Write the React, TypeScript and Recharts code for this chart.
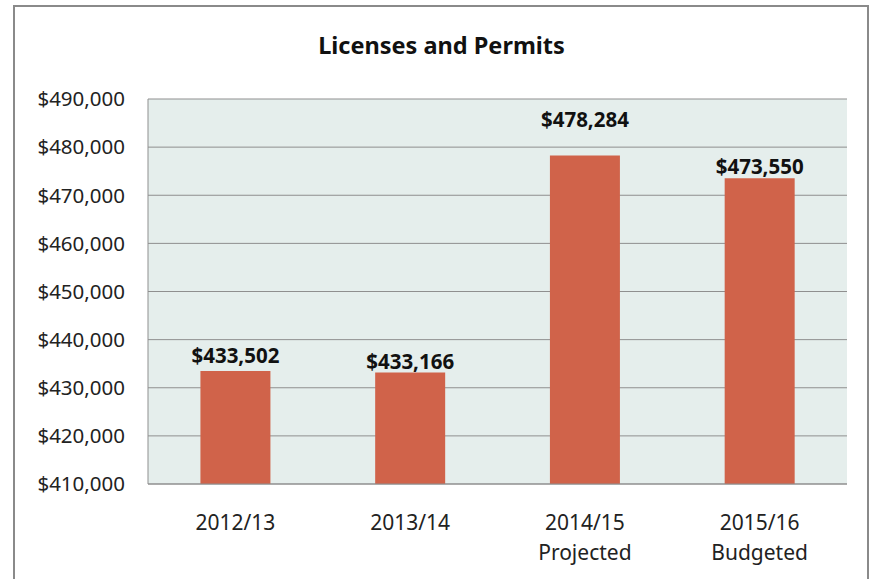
import { BarChart, Bar, XAxis, YAxis, CartesianGrid, LabelList } from 'recharts';

const years = ['2012/13', '2013/14', '2014/15', '2015/16'];
const subLabels = ['', '', 'Projected', 'Budgeted'];
const amounts = [433502, 433166, 478284, 473550];
const yTicks = [410000, 420000, 430000, 440000, 450000, 460000, 470000, 480000, 490000];

const data = years.map((year, i) => ({ year, sub: subLabels[i], amount: amounts[i] }));

const FONT = '"Noto Sans", "Open Sans", sans-serif';
const money = (v: number) => `$${v.toLocaleString('en-US')}`;

function YearTick(props: any) {
  const { x, y, payload, index } = props;
  const sub = subLabels[index] || '';
  return (
    <g transform={`translate(${x},${y})`}>
      <text x={0} y={0} dy={38} textAnchor="middle" fill="#222" fontSize={21} fontFamily={FONT}>
        {payload.value}
      </text>
      {sub && (
        <text x={0} y={0} dy={68} textAnchor="middle" fill="#222" fontSize={21} fontFamily={FONT}>
          {sub}
        </text>
      )}
    </g>
  );
}

function ValueLabel(props: any) {
  const { x, y, width, value, index } = props;
  // Excel put the projected label a bit higher than the others
  const lift = index === 2 ? 28 : index === 0 ? 8 : 4;
  return (
    <text
      x={x + width / 2}
      y={y - lift}
      textAnchor="middle"
      fill="#111"
      fontSize={20.5}
      fontWeight="bold"
      fontFamily={FONT}
    >
      {money(value)}
    </text>
  );
}

export default function App() {
  return (
    <div style={{ position: 'absolute', left: 0, top: 0, width: 873, height: 579, background: '#fff', overflow: 'hidden' }}>
      <div
        style={{
          position: 'absolute',
          left: 13,
          top: 5,
          width: 852,
          height: 600,
          border: '2px solid #8a8a8a',
        }}
      />
      <div
        style={{
          position: 'absolute',
          left: 0,
          top: 29,
          width: 883,
          textAlign: 'center',
          fontFamily: FONT,
          fontWeight: 'bold',
          fontSize: 23.5,
          color: '#111',
        }}
      >
        Licenses and Permits
      </div>
      <div style={{ position: 'absolute', left: 0, top: 0 }}>
        <BarChart
          width={873}
          height={579}
          data={data}
          margin={{ top: 99, right: 26, bottom: 0, left: 0 }}
          barCategoryGap="30%"
        >
          <CartesianGrid vertical={false} stroke="#8f8f8f" fill="#e5eeec" />
          <XAxis
            dataKey="year"
            height={95}
            tick={<YearTick />}
            tickLine={false}
            axisLine={{ stroke: '#8f8f8f' }}
            interval={0}
          />
          <YAxis
            width={148}
            domain={[410000, 490000]}
            ticks={yTicks}
            tickFormatter={money}
            tick={{ fontSize: 20.5, fill: '#222', fontFamily: FONT }}
            tickLine={false}
            tickMargin={17}
            axisLine={{ stroke: '#8f8f8f' }}
            allowDataOverflow
          />
          <Bar dataKey="amount" fill="#d0634a" isAnimationActive={false}>
            <LabelList dataKey="amount" content={<ValueLabel />} />
          </Bar>
        </BarChart>
      </div>
    </div>
  );
}
